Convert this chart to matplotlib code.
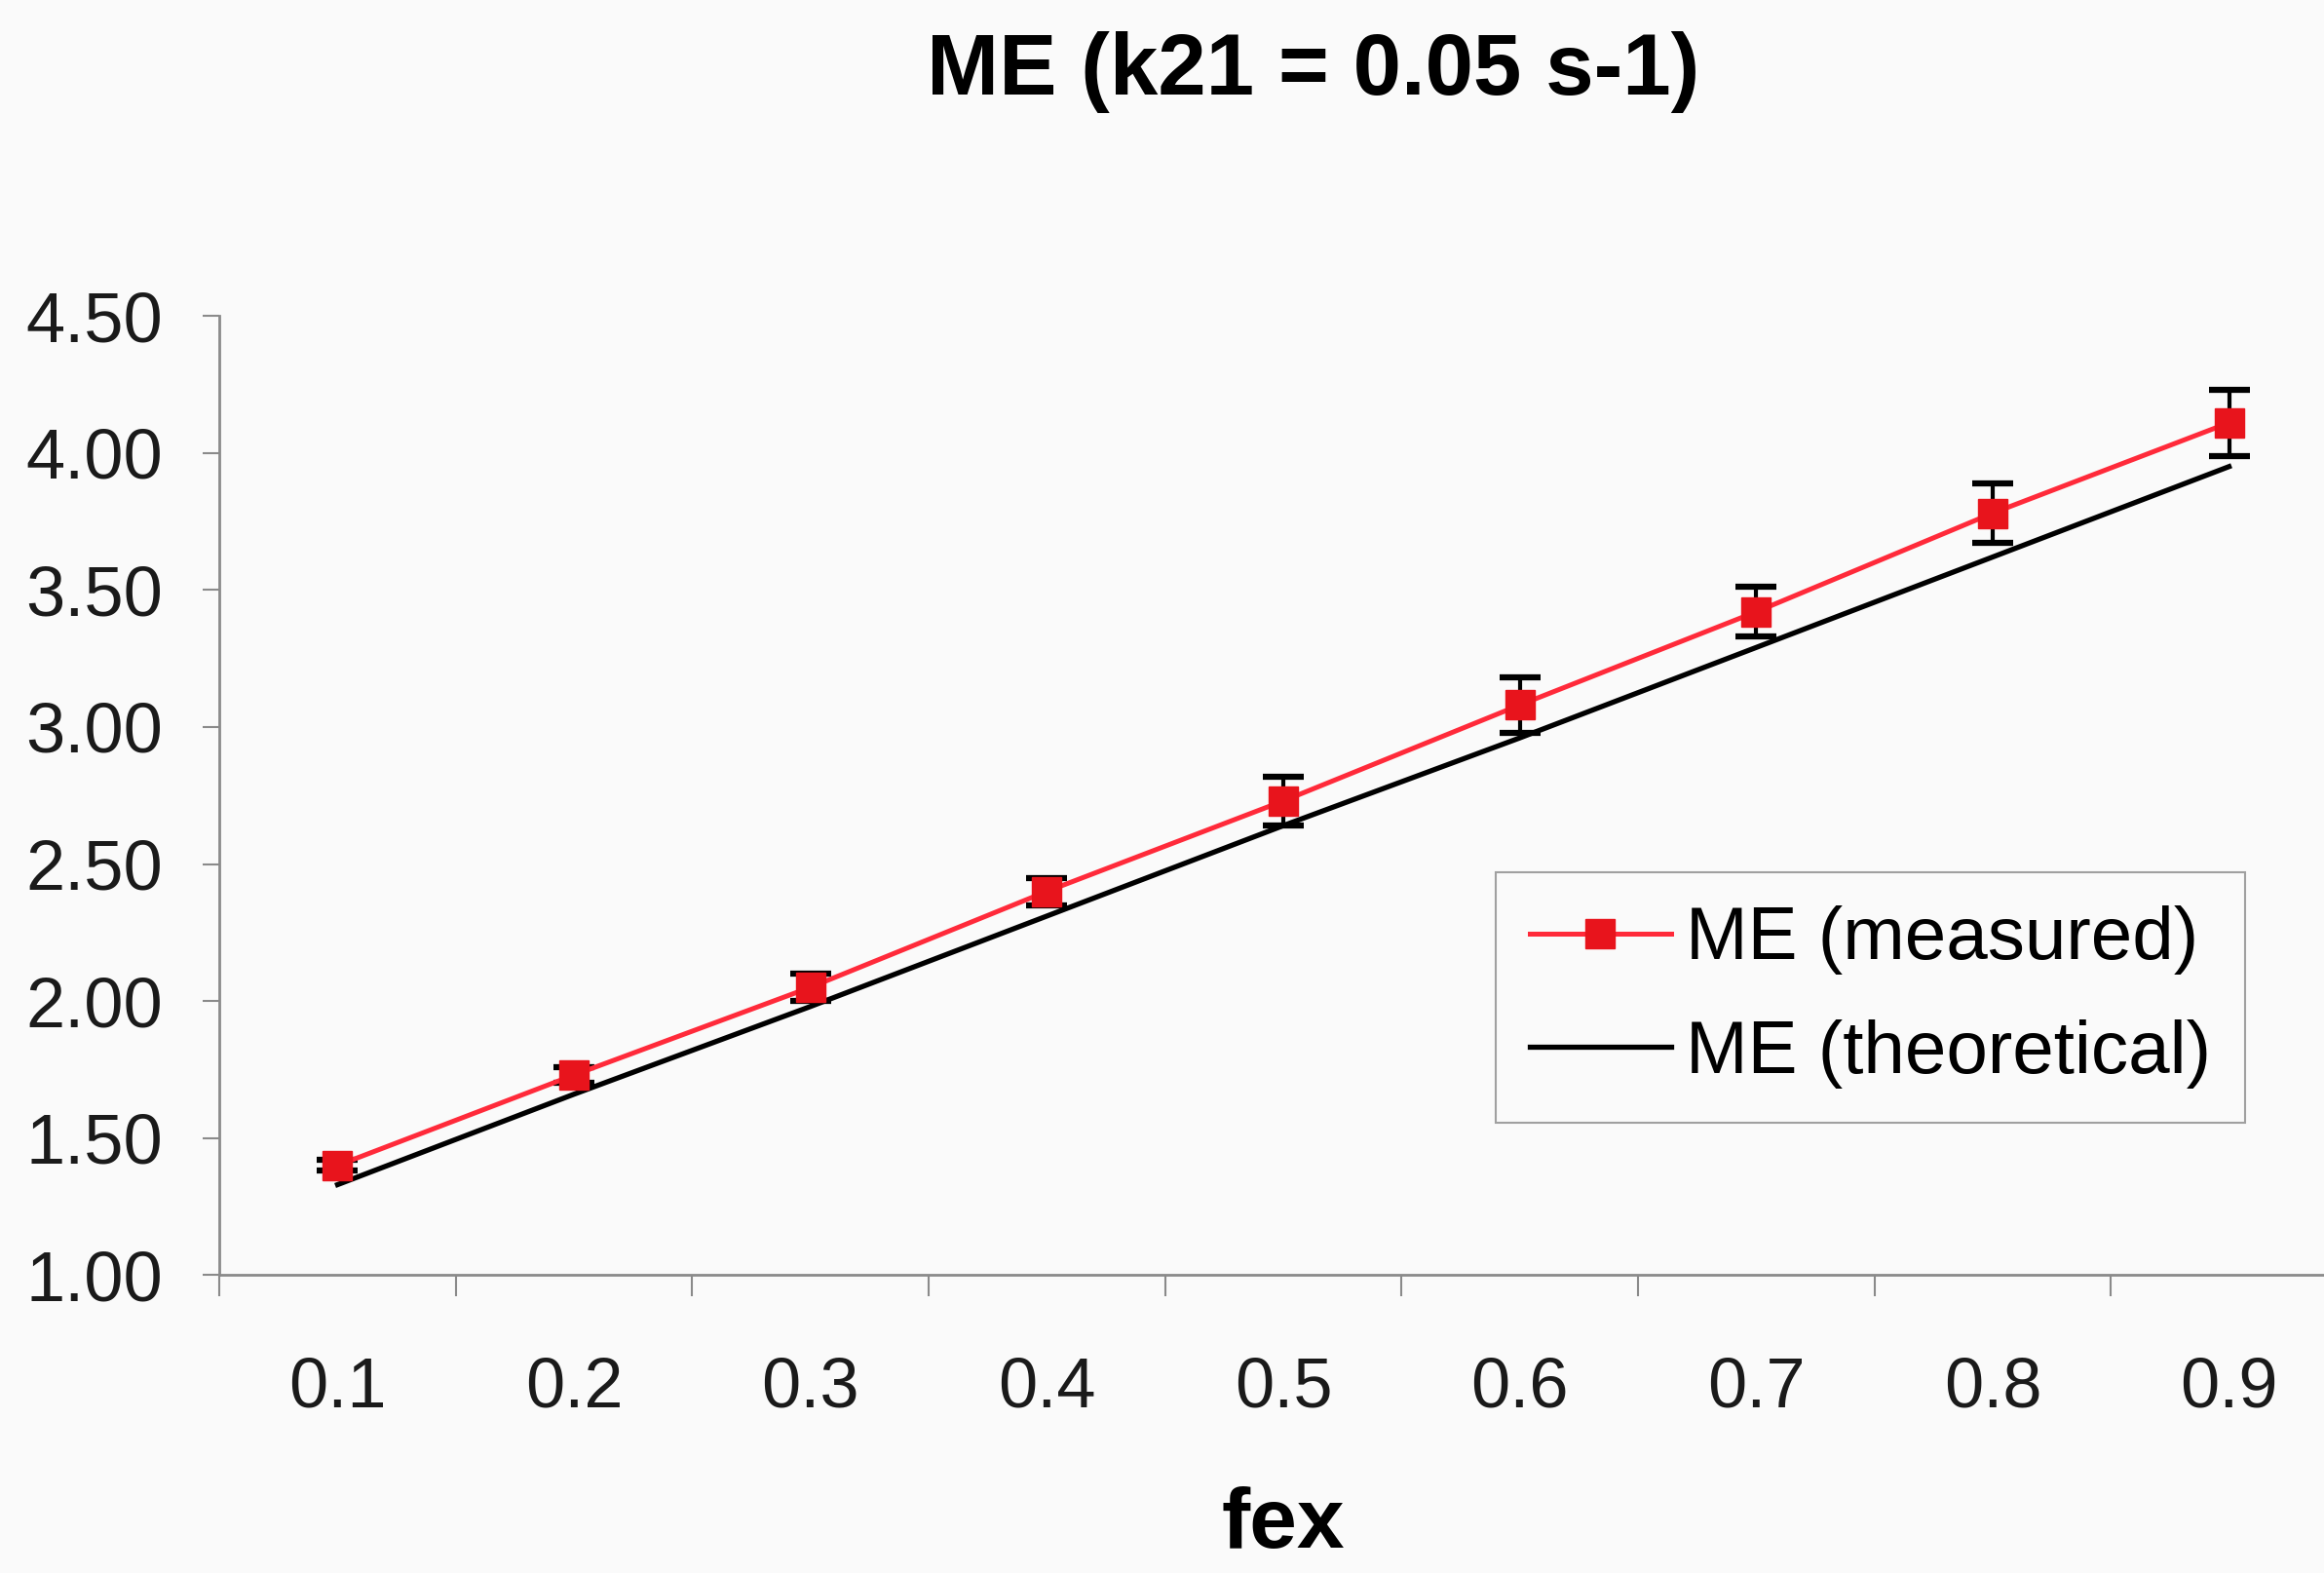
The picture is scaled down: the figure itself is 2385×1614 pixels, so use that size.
import matplotlib

matplotlib.use("Agg")
import matplotlib.pyplot as plt
from matplotlib.ticker import FixedLocator

# Data
fex_labels = ["0.1", "0.2", "0.3", "0.4", "0.5", "0.6", "0.7", "0.8", "0.9"]
me_measured = [1.40, 1.73, 2.05, 2.40, 2.73, 3.08, 3.42, 3.78, 4.11]
me_error = [0.02, 0.03, 0.05, 0.05, 0.09, 0.10, 0.09, 0.11, 0.12]
me_theoretical = [1.33, 1.66, 1.98, 2.31, 2.64, 2.96, 3.29, 3.62, 3.95]
y_ticks = [1.0, 1.5, 2.0, 2.5, 3.0, 3.5, 4.0, 4.5]

BG = "#fafafa"
AXIS_GRAY = "#8a8a8a"

plt.rcParams["font.family"] = ["Liberation Sans", "DejaVu Sans"]

fig = plt.figure(figsize=(23.85, 16.14), dpi=100, facecolor=BG)
ax = fig.add_axes([0.0944, 0.1894, 0.9156, 0.6098], facecolor=BG)

pos = list(range(1, len(fex_labels) + 1))

ax.plot(pos, me_theoretical, color="black", lw=3.8, zorder=2, label="ME (theoretical)")
ax.errorbar(pos, me_measured, yerr=me_error, fmt="none", ecolor="black",
            elinewidth=3, capsize=15, capthick=4.5, zorder=3)
ax.plot(pos, me_measured, color="#ff2a3a", lw=3.6, marker="s", markersize=22,
        markerfacecolor="#e8141c", markeredgecolor="#e8141c", zorder=4,
        label="ME (measured)")

ax.set_xlim(0.5, len(fex_labels) + 0.5)
ax.set_ylim(1.0, 4.5)

ax.set_yticks(y_ticks)
ax.set_yticklabels([f"{v:.2f}" for v in y_ticks])
ax.set_xticks(pos)
ax.set_xticklabels(fex_labels)
ax.xaxis.set_minor_locator(FixedLocator([p - 0.5 for p in pos] + [len(pos) + 0.5]))

ax.tick_params(axis="y", which="major", direction="out", length=12, width=1.5,
               color=AXIS_GRAY, pad=30, labelsize=52, labelcolor="#1a1a1a")
ax.tick_params(axis="x", which="major", length=0, pad=60, labelsize=52,
               labelcolor="#1a1a1a")
ax.tick_params(axis="x", which="minor", direction="out", length=16, width=1.5,
               color=AXIS_GRAY)

for side in ("top", "right"):
    ax.spines[side].set_visible(False)
for side in ("left", "bottom"):
    ax.spines[side].set_color(AXIS_GRAY)
    ax.spines[side].set_linewidth(2)

ax.set_xlabel("fex", fontsize=63, fontweight="bold", labelpad=48)
fig.suptitle("ME (k21 = 0.05 s-1)", fontsize=64, fontweight="bold", x=0.565, y=0.98)

handles, labels = ax.get_legend_handles_labels()
leg = ax.legend(handles[::-1], labels[::-1], loc="upper left",
                bbox_to_anchor=(0.600, 0.42), fontsize=55, frameon=True,
                fancybox=False, edgecolor=AXIS_GRAY, facecolor=BG,
                handlelength=1.9, handletextpad=0.2, borderpad=0.45,
                labelspacing=0.6, borderaxespad=0)
leg.get_frame().set_linewidth(1.5)

fig.savefig("out.png", dpi=100, facecolor=BG)
